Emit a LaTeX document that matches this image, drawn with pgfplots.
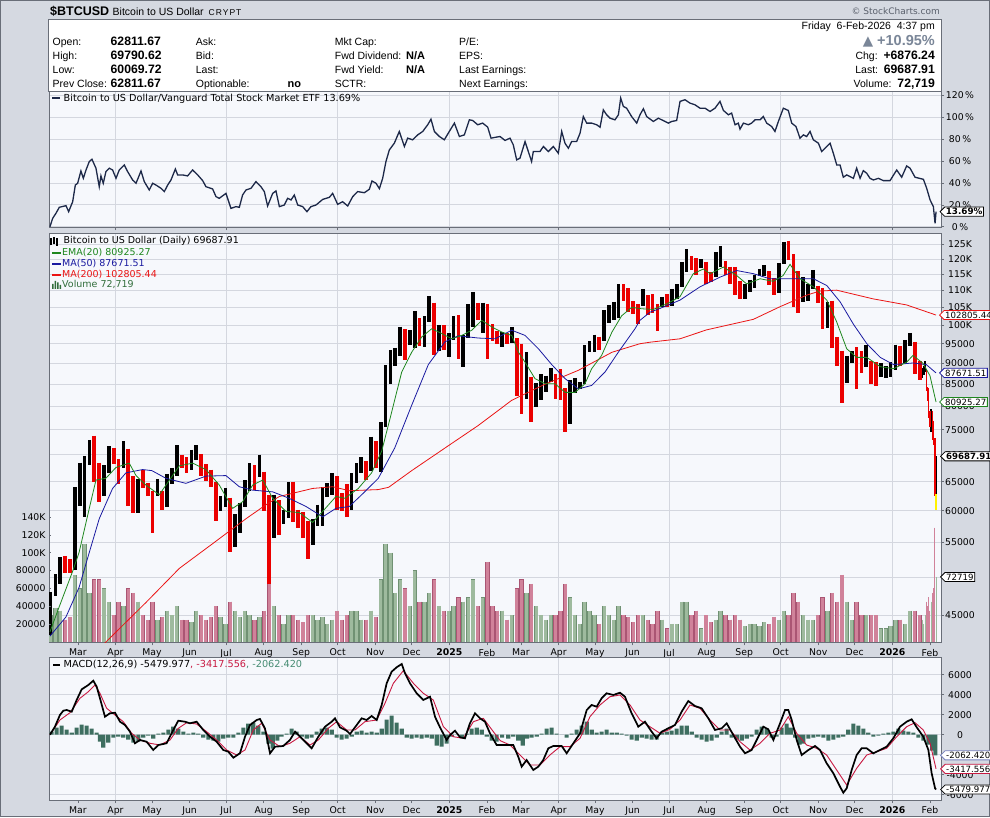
\documentclass[border=0pt]{standalone}
\usepackage{fontspec}
\setmainfont{Liberation Sans}
\newfontfamily\dv{DejaVu Sans}
\newfontfamily\spaced[LetterSpace=12]{Liberation Sans}
\usepackage{pgfplots}
\pgfplotsset{compat=1.18}
\usepackage{pgfplotstable}
\usetikzlibrary{shapes.symbols}
\newcommand{\fs}[1]{\fontsize{#1}{#1}\selectfont}

\definecolor{outerbg}{RGB}{213,217,225}
\definecolor{panelbg}{RGB}{246,248,252}
\definecolor{gridc}{RGB}{212,215,223}
\definecolor{framec}{RGB}{105,110,120}
\definecolor{rsline}{RGB}{28,40,72}
\definecolor{emag}{RGB}{30,135,30}
\definecolor{ma50c}{RGB}{25,25,160}
\definecolor{ma200c}{RGB}{235,20,20}
\definecolor{candred}{RGB}{235,0,0}
\definecolor{volg}{RGB}{158,186,158}
\definecolor{volp}{RGB}{208,130,154}
\definecolor{volgd}{RGB}{112,145,115}
\definecolor{volpd}{RGB}{170,85,115}
\definecolor{macdred}{RGB}{200,25,65}
\definecolor{histg}{RGB}{62,110,96}
\definecolor{chgc}{RGB}{122,134,152}
\definecolor{macdblue}{RGB}{120,130,190}
\definecolor{stamp}{RGB}{90,96,108}
\definecolor{legg}{RGB}{50,110,60}
\definecolor{histtxt}{RGB}{70,140,115}

% 4-day groups: centre day (days since 1 Jan 2024), low, high, up(1)/down(0), volume
\pgfplotstableread{
d lo hi up vol
37.5 42600 48000 1 30000
41.5 47500 50400 1 38000
45.5 49000 52800 1 35000
49.5 50600 53000 0 25000
53.5 50500 52500 0 28000
57.5 51000 64000 1 75000
61.5 60800 68500 1 60000
65.5 59000 69800 1 110000
69.5 68000 72900 1 55000
73.5 65000 73800 0 70000
77.5 61500 68500 0 70000
81.5 62500 68000 1 60000
85.5 66500 71700 1 45000
89.5 68200 71300 0 30000
93.5 64500 69200 0 45000
97.5 67500 72700 1 40000
101.5 60800 71200 0 60000
105.5 59700 66000 0 55000
109.5 59600 65500 1 45000
113.5 63800 67200 0 30000
117.5 62500 64800 0 25000
121.5 56500 63300 0 45000
125.5 62500 65500 1 25000
129.5 60200 63300 0 28000
133.5 60700 66400 1 35000
137.5 64600 67500 1 30000
141.5 66000 71900 1 40000
145.5 67500 70000 0 25000
149.5 66600 69500 0 25000
153.5 67200 71000 1 22000
157.5 69000 71900 1 35000
161.5 66100 70100 0 30000
165.5 65100 68200 0 25000
169.5 64100 67200 0 28000
173.5 58400 65000 0 40000
177.5 60000 62400 1 28000
181.5 60600 63800 1 20000
185.5 53500 62200 0 45000
189.5 54300 59500 1 35000
193.5 56500 61300 1 28000
197.5 60600 65300 1 35000
201.5 63300 68400 1 30000
205.5 63500 68000 0 25000
209.5 65800 70000 1 28000
213.5 59900 66800 0 35000
217.5 49000 62700 0 65000
221.5 55700 62700 1 40000
225.5 56100 61800 0 30000
229.5 57800 60200 1 20000
233.5 58800 64900 1 30000
237.5 58100 65000 0 30000
241.5 57200 60200 0 25000
245.5 55600 59800 0 22000
249.5 52600 58300 0 30000
253.5 54600 58700 1 30000
257.5 57500 61000 1 25000
261.5 57600 64000 1 28000
265.5 62300 64800 1 20000
269.5 62700 66500 1 25000
273.5 60100 66000 0 35000
277.5 59900 63000 0 25000
281.5 58900 64500 0 30000
285.5 60200 66500 1 35000
289.5 64800 68400 1 35000
293.5 66600 69500 1 25000
297.5 65300 68800 0 25000
301.5 67000 73600 1 35000
305.5 67500 72700 0 28000
309.5 66800 76500 1 70000
313.5 75600 89600 1 110000
317.5 85100 93400 1 100000
321.5 89400 94000 1 55000
325.5 91800 99600 1 70000
329.5 90800 98800 0 60000
333.5 94600 98600 1 40000
337.5 94000 104000 1 80000
341.5 94300 101900 0 45000
345.5 94200 102500 1 45000
349.5 100800 108300 1 55000
353.5 92200 106400 0 70000
357.5 93000 99900 1 40000
361.5 93300 99900 0 35000
365.5 91500 97800 1 35000
369.5 96000 102500 1 40000
373.5 91200 102700 0 50000
377.5 89200 97300 1 45000
381.5 96500 105900 1 50000
385.5 99500 109600 1 70000
389.5 101300 106300 0 40000
393.5 97800 106400 1 50000
397.5 91200 106000 0 90000
401.5 95700 100200 0 40000
405.5 94900 98500 0 35000
409.5 94100 98100 1 35000
413.5 95000 97800 0 25000
417.5 95200 99500 1 30000
421.5 82200 96500 0 60000
425.5 78200 95000 0 70000
429.5 81500 92800 1 55000
433.5 76600 86800 0 65000
437.5 79900 85300 1 40000
441.5 81300 87400 1 30000
445.5 83200 87000 1 25000
449.5 85500 88800 1 30000
453.5 81600 87500 0 30000
457.5 81300 88500 0 35000
461.5 74500 84000 0 65000
465.5 76200 86000 1 50000
469.5 83000 86500 1 30000
473.5 83800 85600 1 20000
477.5 85000 94600 1 45000
481.5 92900 95700 1 35000
485.5 92800 97400 1 30000
489.5 93400 96900 0 20000
493.5 95800 104300 1 40000
497.5 100700 105700 1 30000
501.5 101500 106700 1 25000
505.5 102000 111900 1 40000
509.5 106800 111900 0 30000
513.5 103700 110700 0 28000
517.5 103100 106800 0 22000
521.5 100400 106000 0 30000
525.5 105300 110400 1 30000
529.5 102700 108500 0 25000
533.5 103400 108900 0 20000
537.5 98300 106000 0 35000
541.5 105100 108100 1 25000
545.5 105200 108800 0 15000
549.5 105300 110500 1 20000
553.5 107500 111900 1 20000
557.5 111000 119000 1 45000
561.5 115700 123200 1 45000
565.5 116500 120900 0 30000
569.5 114700 120200 0 35000
573.5 117000 119800 1 15000
577.5 112000 119000 0 30000
581.5 112600 115700 0 22000
585.5 114300 122300 1 25000
589.5 117200 124400 1 35000
593.5 114700 119200 0 30000
597.5 112000 117400 0 25000
601.5 108600 117400 0 30000
605.5 107400 113000 0 25000
609.5 107300 112000 1 18000
613.5 109600 113300 1 20000
617.5 110600 114700 1 20000
621.5 114500 116800 1 18000
625.5 114600 117900 1 22000
629.5 111600 116000 0 20000
633.5 108700 113900 0 28000
637.5 109300 118700 1 25000
641.5 118300 125700 1 35000
645.5 119500 126200 0 30000
649.5 105000 121600 0 55000
653.5 103500 115900 0 45000
657.5 106600 114000 1 30000
661.5 107000 112000 1 25000
665.5 110500 116400 1 25000
669.5 106300 111500 0 30000
673.5 98900 110800 0 50000
677.5 99300 106500 1 35000
681.5 94000 107000 0 55000
685.5 89300 96800 0 45000
689.5 80600 93200 0 75000
693.5 85300 91900 1 45000
697.5 90000 93100 1 25000
701.5 83800 94100 0 45000
705.5 87700 93000 0 30000
709.5 89200 94600 1 30000
713.5 85100 90600 0 30000
717.5 84500 90400 0 30000
721.5 86600 90000 1 15000
725.5 86500 89400 1 15000
729.5 86800 90400 1 18000
733.5 88300 94800 1 25000
737.5 89300 94400 0 25000
741.5 90100 96000 1 20000
745.5 94500 97900 1 35000
749.5 87300 95500 0 35000
753.5 86000 90500 0 30000
}\cand

% daily bars at the end
\pgfplotstableread{
d lo hi up vol
756 86500 88900 1 25000
757 87200 89400 1 20000
758 88000 90500 1 30000
759 83400 88500 0 45000
760 81100 84300 0 40000
761 77500 84200 0 50000
762 75500 79000 0 35000
763 74500 79300 1 45000
764 73000 79000 0 55000
765 72000 76900 0 60000
766 62500 73300 0 128000
767 62811.67 69687.91 1 72719
}\candd

\pgfplotstableread{
d lo hi
767 60069.72 62811.67
}\wick

\pgfplotstableread{
d v
37 43000
44.7 46100
55.7 50800
61 53500
69.4 60400
74.9 65300
83 65600
91.4 67600
102.3 68400
107.9 66100
116 64400
127 62700
132.6 64400
143.6 67900
154.6 68400
165.5 67200
176.5 64400
187.5 60400
195.7 61500
204 64400
212.3 65300
220.5 62100
231.4 59900
242.4 59700
253.4 58100
261.7 59900
272.6 62400
280 62100
291 63800
302 66600
310.3 70700
318.5 78700
326.8 87900
335 92800
343.3 96800
351.5 99000
359.8 97700
368 96300
376.2 97200
384.5 98600
392.7 101300
401 99500
409.2 98100
417.4 97200
423 92800
428.4 90300
436.6 86300
444.9 85100
453 85100
461.4 83100
469.6 83100
477.8 85100
483.3 88700
491.5 92000
500 98100
508 102600
516.3 105000
524.5 104600
534 104400
545 106000
556 108100
567 115200
575.3 116700
580.8 115200
591.8 117300
602.8 114600
611 112000
622 113600
633 112800
641 114600
646.7 118200
655 113600
666 111100
677 107100
685 101000
693.4 93700
701.6 91500
710 91500
721 89200
732 88700
742.8 90300
748 92000
756.3 90000
762 87000
767 80925.27
}\ema

\pgfplotstableread{
d v
37 42500
50.2 44800
61 48600
69.4 53500
77.6 58700
88.6 63800
99.6 66600
113.4 67200
121 67000
132.6 65600
149 64700
165.5 66000
182 66100
193 64100
204 63500
220.5 63200
234 62100
248 60700
261.7 59000
272.6 60400
283.6 60700
293.8 62700
307.5 65600
321 71300
335 80200
348.7 89700
362.4 95500
373.4 97100
390 96500
403.7 96300
417.4 98600
428.4 97200
439.4 93700
450.4 89700
461.4 86300
472.3 83900
483.3 84700
494.3 87900
505.2 92800
519 99000
523 101300
531.3 103600
539.6 104700
556 107100
572.5 111100
589 114100
602.8 116200
616.5 115200
630 113600
644 113600
666 113600
677 111500
688 106600
699 100200
710 95000
721 91500
732 89700
748 90100
759 89700
767 87671.51
}\mafifty

\pgfplotstableread{
d v
37 35500
60 38800
83 41800
116 46600
143.6 51200
171 54800
198.5 58700
215 61000
226 62400
253.4 63800
270 64100
283.6 63400
307.5 63600
316 64000
335 67000
362.4 71300
390 75900
417.4 81300
444.9 85000
472.3 88300
500 92800
523 95000
531.3 95400
556 96300
578 98700
616.5 101600
638.5 105200
660.5 108600
671 109800
685 110100
715 107500
742.8 105700
767 102805.44
}\matwohundred

\pgfplotstableread{
d p
37.0 0
39.2 7.6
41.9 12.2
44.7 17.7
50.2 19.2
52.4 13.7
55.7 22.8
57.9 38.0
59.8 39.6
62.5 50.8
64.5 44.1
66.7 51.7
69.4 59.4
71.6 61.5
74.9 53.3
77.6 36.5
79.0 46.3
80.9 39.6
83.1 50.2
85.9 53.3
88.6 51.7
91.4 44.1
94.1 51.7
98.2 56.3
101.0 50.2
105.1 42.6
107.9 39.6
112.0 50.8
114.7 41.1
118.8 33.5
121.6 39.6
124.3 38.0
128.5 35.0
131.2 32.0
134.0 38.0
136.7 42.6
140.3 52.6
142.2 47.2
146.3 47.2
150.4 46.3
154.5 51.7
158.7 47.2
162.8 42.0
165.5 36.5
171.0 34.4
173.8 27.4
176.5 25.9
182.0 30.4
186.1 16.7
190.2 18.3
193.0 17.7
195.7 28.9
198.5 33.5
202.6 35.0
206.7 41.1
210.8 36.5
213.6 32.0
216.3 18.9
220.5 30.4
223.2 32.6
226.0 18.3
230.1 19.8
232.8 25.9
235.6 24.4
238.3 28.9
241.1 19.8
245.2 18.3
248.7 13.7
252.0 18.3
256.2 19.8
261.7 24.9
267.2 26.8
269.9 30.4
274.0 20.4
278.1 22.8
282.3 18.9
286.4 27.4
290.5 32.0
296.0 31.0
300.1 34.1
302.3 41.7
305.6 39.6
308.4 34.7
311.1 44.1
313.8 59.4
316.6 70.0
320.7 76.1
324.8 86.8
329.0 73.1
331.7 80.7
335.8 79.2
340.0 83.7
344.1 86.8
348.2 92.9
350.9 98.0
353.7 86.8
357.8 82.2
361.9 79.2
366.0 86.8
370.2 94.4
374.3 82.2
378.4 83.7
382.5 97.4
385.3 96.8
389.4 92.9
393.5 94.4
397.6 90.8
400.4 80.7
404.5 81.6
407.8 82.2
411.9 78.6
416.0 80.7
418.7 74.6
421.5 60.9
424.2 62.4
428.4 77.6
431.1 68.5
433.8 59.4
435.2 68.5
440.7 68.5
443.5 73.1
447.6 68.5
451.7 73.1
455.8 67.0
458.6 86.8
461.3 76.1
464.1 71.5
466.8 77.6
470.9 77.6
473.7 85.2
476.4 100.4
479.2 94.4
483.3 94.4
487.4 92.9
490.2 90.7
492.9 106.5
495.6 102.0
498.4 98.9
502.5 97.4
505.3 102.0
507.2 117.2
509.4 109.6
512.1 108.0
516.2 100.4
520.4 94.4
523.1 102.0
525.9 107.5
528.6 100.4
534.1 95.9
538.2 98.9
541.0 97.4
546.5 94.4
549.2 95.9
553.3 96.8
556.1 114.2
560.2 115.7
564.3 112.6
568.4 111.1
572.6 108.0
576.7 108.0
580.8 105.0
584.9 108.0
589.0 114.2
591.8 106.0
595.9 102.0
598.6 103.5
601.4 92.9
604.1 94.4
605.5 88.9
608.3 94.4
612.4 92.9
615.1 94.4
617.9 97.4
622.0 97.4
624.7 100.4
627.5 94.4
631.6 91.3
634.3 86.8
637.1 95.9
641.2 108.0
645.3 105.9
648.1 94.4
651.6 91.3
654.9 80.7
657.7 83.7
660.4 82.2
663.2 86.8
665.9 79.2
670.1 76.1
672.8 68.5
676.9 73.1
679.7 76.1
682.4 66.9
685.2 56.3
687.9 56.3
690.6 45.1
693.4 47.2
696.1 45.7
698.9 44.1
701.6 53.3
704.4 44.1
707.1 51.1
709.9 48.7
712.6 44.1
715.4 42.6
719.5 44.1
723.6 42.0
729.1 42.0
734.6 51.7
738.7 45.1
742.8 55.4
745.6 53.3
749.7 45.1
756.6 43.2
759.3 35.0
762.1 24.4
764.8 18.3
766.2 3.0
767.0 13.69
}\rs

\pgfplotstableread{
d m
37.0 0
41.1 800
45.2 1970
48.0 2400
50.7 2470
54.9 2300
59.0 3470
63.1 4530
68.6 4970
72.7 5400
75.5 4800
78.2 3640
82.3 1800
86.4 2140
90.6 2200
94.7 1300
98.8 970
102.9 300
107.0 -860
111.2 -530
116.6 -700
122.1 -1530
126.3 -1030
133.1 -860
138.6 470
142.7 1400
148.2 1300
152.3 1140
157.8 1300
163.3 470
168.8 -200
174.3 -700
179.8 -1530
183.9 -1700
188.1 -2300
193.5 -1860
197.7 -200
201.8 970
207.3 1470
210.0 1570
214.1 640
218.3 -1860
222.4 -1200
229.2 -1130
234.7 -530
238.9 300
243.0 -200
248.5 -860
252.6 -1360
258.1 -200
263.6 800
269.1 1300
271.8 1640
275.9 740
281.4 400
284.2 70
289.7 970
293.8 1640
297.9 1470
302.0 1870
306.2 1470
310.3 2970
314.4 5140
318.5 6300
322.6 6740
326.8 7070
329.5 6140
333.6 5140
339.1 4140
344.6 3470
350.1 3800
354.2 1800
358.3 740
363.8 -530
366.6 -30
370.7 400
374.8 -260
378.9 -360
383.0 1140
387.2 2140
391.3 1640
395.4 1300
399.5 140
405.0 -1030
410.5 -1030
418.7 -1030
422.8 -2200
425.6 -3200
429.7 -2530
435.2 -3530
439.3 -3200
443.4 -2530
447.6 -1360
451.7 -1130
458.6 -1130
462.7 -1860
468.2 -860
473.7 140
479.2 2470
483.3 2970
487.4 2800
491.5 3640
495.6 4140
501.1 3970
506.6 4200
510.7 3800
516.2 2140
521.7 800
527.2 1300
532.7 300
536.8 -360
540.9 300
546.4 640
551.9 970
557.4 2300
562.9 3370
568.4 2870
573.9 2640
579.4 1640
584.9 470
590.4 640
594.5 1140
600.0 -30
605.5 -1200
609.6 -1860
615.1 -1530
620.6 -200
624.7 800
628.8 540
633.0 -530
638.5 1140
642.6 2470
645.3 2470
648.1 1470
652.2 -530
656.3 -2030
661.8 -1530
667.3 -1130
671.4 -1530
676.9 -2860
682.4 -3860
687.9 -5200
690.6 -5800
693.4 -5360
697.5 -3530
701.6 -2030
705.7 -1360
709.9 -1360
715.3 -1860
720.8 -1530
726.3 -1200
731.8 -360
737.3 800
742.8 1300
746.9 1540
751.1 740
756.5 -200
760.7 -1530
763.4 -3860
766.2 -5360
767.0 -5479.977
}\macd

\pgfplotstableread{
d s
37.0 0
45.2 1470
53.5 2200
61.7 3640
68.6 4300
74.1 4970
78.2 4140
83.7 2640
90.6 1970
97.4 1300
104.3 140
111.2 -530
119.4 -860
127.6 -1030
135.9 -530
142.7 640
149.6 1200
157.8 1070
166.1 300
174.3 -530
182.6 -1530
190.8 -2030
197.7 -1530
204.5 470
211.4 1140
218.3 -530
226.5 -1200
234.7 -860
243.0 -200
251.2 -1030
258.1 -530
266.3 640
273.2 1300
281.4 470
288.3 470
296.5 1300
306.2 1470
313.0 3140
319.9 5140
328.1 6400
336.4 5140
344.6 4140
352.8 3470
361.1 800
369.3 -200
377.6 -360
385.8 1300
394.0 1640
402.3 300
408.0 -600
416.0 -1030
424.2 -2030
432.5 -3030
440.7 -3030
448.9 -2030
457.2 -1200
465.4 -1200
473.7 -360
481.9 1800
490.1 2970
498.4 3800
506.6 3970
514.9 2970
523.1 1470
531.3 800
539.6 140
547.8 540
556.1 1470
564.3 2970
572.5 2640
580.8 1470
589.0 470
597.3 470
605.5 -700
613.7 -1530
622.0 -860
630.2 140
638.5 470
645.3 1800
652.2 140
660.4 -1030
668.7 -1360
676.9 -2030
685.1 -3530
693.4 -5030
701.6 -3360
709.9 -2030
718.1 -1700
726.3 -1360
734.6 -200
742.8 800
749.7 1200
756.5 470
762.1 -860
767.0 -3417.556
}\sig

\pgfplotstableread{
d h
38.4 300
42.5 700
46.6 900
50.7 500
54.9 200
59.0 700
63.1 1000
67.2 900
71.3 600
75.4 200
78.2 -700
80.9 -1300
85.0 -800
89.2 -300
93.3 -200
97.4 -300
101.5 -500
105.7 -800
109.8 -700
113.9 -300
118.0 -100
122.1 -400
126.3 100
130.4 200
134.5 500
138.6 800
142.7 600
146.9 300
151.0 100
155.1 200
159.2 100
163.3 -300
167.5 -500
171.6 -600
175.7 -700
179.8 -400
183.9 -300
188.1 -300
192.2 200
196.3 700
200.4 1100
204.5 1200
208.6 900
212.8 300
216.9 -900
220.5 -1400
224.3 -600
227.9 -200
232.0 100
236.1 600
240.2 300
244.4 -200
248.5 -400
252.6 -300
256.7 300
260.8 600
265.0 700
269.1 500
273.2 -300
277.3 -500
281.4 -400
285.6 -200
289.7 300
293.8 400
297.9 200
302.0 300
306.2 200
310.3 600
314.4 1500
318.5 1900
322.6 1200
326.8 600
330.9 -300
335.0 -400
339.1 -300
343.2 -400
347.4 -300
351.5 -400
355.6 -1100
359.7 -1200
363.8 -900
368.0 -200
372.1 0
376.2 -300
380.3 100
384.4 600
388.6 700
392.7 500
396.8 -200
400.9 -600
405.0 -700
409.5 -300
414.6 -400
418.7 -200
422.8 -600
426.5 -1100
430.0 -400
433.8 -300
438.0 -200
442.1 100
446.2 600
450.3 700
454.4 100
458.6 0
462.7 -300
466.8 100
470.9 500
475.0 900
479.2 1300
483.3 500
487.4 200
491.5 300
495.6 500
499.8 200
503.9 200
508.0 100
512.1 -100
516.2 -500
520.4 -600
524.5 -300
528.6 -400
532.7 -500
536.8 -500
541.0 200
545.1 300
549.2 400
553.3 600
557.4 900
561.6 900
565.7 300
569.8 -300
573.9 -500
578.0 -700
582.1 -600
586.3 -300
590.4 300
594.5 600
598.6 -300
602.8 -500
606.9 -600
611.0 -400
615.1 -200
619.2 500
623.3 800
627.5 600
631.6 -300
635.7 -200
639.8 700
643.9 1100
647.5 700
651.0 -300
654.5 -1000
657.7 -900
661.8 -400
665.9 -300
670.0 -200
674.2 -300
678.3 -600
682.4 -500
686.5 -300
690.6 -200
694.7 500
698.9 1100
703.0 900
707.1 600
711.2 200
715.4 -200
719.5 -100
723.6 100
727.7 200
731.8 300
736.0 600
740.1 400
744.2 300
748.3 200
752.4 -300
756.6 -600
760.7 -1000
763.8 -1600
766.5 -2062.42
}\hist

\pgfplotsset{
  panel/.style={
    scale only axis, width=892pt, xmin=36.2, xmax=771.1,
    anchor=south west,
    axis line style={framec, line width=0.6pt},
    tick style={framec, line width=0.5pt},
    tick align=outside, major tick length=3pt,
    xtick pos=left, ytick pos=right, yticklabel pos=right,
    ymajorgrids, grid style={gridc, line width=0.6pt},
    scaled y ticks=false, scaled x ticks=false,
    tick label style={font=\dv\fs{9.3}},
    yticklabel style={anchor=center, xshift=16pt},
    axis background/.style={fill=panelbg},
    clip mode=individual,
  },
  qgrid/.style={minor xtick={91,182,274,366,456,547,639,731}, xminorgrids,
    minor tick length=0pt, minor grid style={gridc, line width=0.6pt}},
  monthticks/.style={
    xtick={60,91,121,152,182,213,244,274,305,335,366,397,425,456,486,517,547,578,609,639,670,700,731,762},
    xticklabels={Mar,Apr,May,Jun,Jul,Aug,Sep,Oct,Nov,Dec,\textbf{2025},Feb,Mar,Apr,May,Jun,Jul,Aug,Sep,Oct,Nov,Dec,\textbf{2026},Feb}},
  bars/.style n args={2}{draw=none, mark=none,
    error bars/y dir=minus, error bars/y explicit, error bars/error mark=none,
    error bars/error bar style={draw=#1, line width=#2}},
}
\tikzset{tag/.style={signal, signal to=west, draw=#1, fill=white, line width=0.8pt,
   inner xsep=1.1pt, inner ysep=1.3pt, font=\dv\fs{8.6}, anchor=west, text=black}}

\begin{document}
\begin{tikzpicture}[x=1pt,y=1pt]
\fill[outerbg] (0,0) rectangle (990,817);
\draw[framec, line width=0.8pt] (0.4,0.4) rectangle (989.6,816.6);
% header box
\fill[white] (48,726) rectangle (941,798);
\draw[framec, line width=0.6pt] (48,726) rectangle (941,798);

% ---------- top panel: relative strength ----------
\begin{axis}[panel, at={(49pt,589.5pt)}, height=136.2pt, ymin=-0.7, ymax=123.4,
  ytick={0,20,40,60,80,100,120},
  yticklabels={0\,\%,20\,\%,40\,\%,60\,\%,80\,\%,100\,\%,120\,\%},
  xtick={91,182,274,366,456,547,639,731}, xticklabels={}, xmajorgrids]
\addplot[rsline, line width=1.3pt] table[x=d,y=p] {\rs};
\coordinate (tagrs) at (axis cs:771.1,13.69);
\end{axis}

% ---------- price panel (y = natural log of the price) with volume overlay ----------
\begin{axis}[panel, qgrid, monthticks, at={(49pt,174.5pt)}, height=409.5pt,
  ymin=10.639481, ymax=11.766343,
  ytick={10.714418,10.819778,10.915088,11.002100,11.082142,11.156251,11.225243,11.289782,11.350406,11.407565,11.461632,11.512925,11.561716,11.608236,11.652687,11.695247,11.736069},
  yticklabels={45000,50000,55000,60000,65000,70000,75000,80000,85000,90000,95000,100K,105K,110K,115K,120K,125K}]
% volume (left scale: 0 at 10.641407, 407622 volume units per log unit)
\addplot[restrict expr to domain={\thisrow{up}}{0.5:1.5}, bars={volgd}{4.3pt}]
  table[x=d, y expr=10.641407+\thisrow{vol}/407622, y error minus expr=\thisrow{vol}/407622] {\cand};
\addplot[restrict expr to domain={\thisrow{up}}{-0.5:0.5}, bars={volpd}{4.3pt}]
  table[x=d, y expr=10.641407+\thisrow{vol}/407622, y error minus expr=\thisrow{vol}/407622] {\cand};
\addplot[restrict expr to domain={\thisrow{up}}{0.5:1.5}, bars={volg}{3.1pt}]
  table[x=d, y expr=10.641407+\thisrow{vol}/407622-0.0008, y error minus expr=\thisrow{vol}/407622-0.0008] {\cand};
\addplot[restrict expr to domain={\thisrow{up}}{-0.5:0.5}, bars={volp}{3.1pt}]
  table[x=d, y expr=10.641407+\thisrow{vol}/407622-0.0008, y error minus expr=\thisrow{vol}/407622-0.0008] {\cand};
\addplot[restrict expr to domain={\thisrow{up}}{0.5:1.5}, bars={volg}{1.0pt}]
  table[x=d, y expr=10.641407+\thisrow{vol}/407622, y error minus expr=\thisrow{vol}/407622] {\candd};
\addplot[restrict expr to domain={\thisrow{up}}{-0.5:0.5}, bars={volp}{1.0pt}]
  table[x=d, y expr=10.641407+\thisrow{vol}/407622, y error minus expr=\thisrow{vol}/407622] {\candd};
% candles (range bars)
\addplot[restrict expr to domain={\thisrow{up}}{0.5:1.5}, bars={black}{3.7pt}]
  table[x=d, y expr=ln(\thisrow{hi}), y error minus expr=ln(\thisrow{hi})-ln(\thisrow{lo})] {\cand};
\addplot[restrict expr to domain={\thisrow{up}}{-0.5:0.5}, bars={candred}{3.7pt}]
  table[x=d, y expr=ln(\thisrow{hi}), y error minus expr=ln(\thisrow{hi})-ln(\thisrow{lo})] {\cand};
\addplot[restrict expr to domain={\thisrow{up}}{0.5:1.5}, bars={black}{1.4pt}]
  table[x=d, y expr=ln(\thisrow{hi}), y error minus expr=ln(\thisrow{hi})-ln(\thisrow{lo})] {\candd};
\addplot[restrict expr to domain={\thisrow{up}}{-0.5:0.5}, bars={candred}{1.4pt}]
  table[x=d, y expr=ln(\thisrow{hi}), y error minus expr=ln(\thisrow{hi})-ln(\thisrow{lo})] {\candd};
\addplot[bars={yellow}{1.4pt}]
  table[x=d, y expr=ln(\thisrow{hi}), y error minus expr=ln(\thisrow{hi})-ln(\thisrow{lo})] {\wick};
% moving averages
\addplot[ma200c, line width=0.8pt] table[x=d, y expr=ln(\thisrow{v})] {\matwohundred};
\addplot[ma50c, line width=0.8pt] table[x=d, y expr=ln(\thisrow{v})] {\mafifty};
\addplot[emag, line width=0.8pt] table[x=d, y expr=ln(\thisrow{v})] {\ema};
\coordinate (tag200) at (axis cs:771.1,11.540593);
\coordinate (tag50) at (axis cs:771.1,11.381352);
\coordinate (tag20) at (axis cs:771.1,11.301282);
\coordinate (taglast) at (axis cs:771.1,11.151782);
\coordinate (tagvol) at (axis cs:771.1,10.819805);
\end{axis}

% ---------- volume scale labels (left) ----------
\begin{axis}[scale only axis, width=892pt, height=409.5pt, xmin=36.2, xmax=771.1,
  anchor=south west, at={(49pt,174.5pt)}, ymin=-785, ymax=458550,
  hide x axis, axis y line*=left, y axis line style={draw=none},
  scaled y ticks=false,
  ytick={20000,40000,60000,80000,100000,120000,140000},
  yticklabels={20000,40000,60000,80000,100K,120K,140K},
  tick style={framec, line width=0.5pt}, major tick length=2pt,
  yticklabel style={font=\dv\fs{9.3}}]
\addplot[draw=none] coordinates {(400,0)};
\end{axis}

% ---------- MACD panel ----------
\begin{axis}[panel, qgrid, monthticks, at={(49pt,17pt)}, height=142.7pt,
  ymin=-6530, ymax=7740,
  ytick={-6000,-4000,-2000,0,2000,4000,6000},
  yticklabels={-6000,-4000,-2000,0,2000,4000,6000}]
\addplot[ybar, bar width=3.4, fill=histg, draw=none] table[x=d,y=h] {\hist};
\addplot[macdred, line width=0.9pt] table[x=d,y=s] {\sig};
\addplot[black, line width=1.7pt] table[x=d,y=m] {\macd};
\coordinate (tagh) at (axis cs:771.1,-2062.42);
\coordinate (tags) at (axis cs:771.1,-3417.556);
\coordinate (tagm) at (axis cs:771.1,-5479.977);
\end{axis}

% ---------- value tags ----------
\node[tag=black, font=\dv\bfseries\fs{8.8}] at ([xshift=-1.5pt]tagrs) {13.69\%};
\node[tag=ma200c] at ([xshift=-2pt]tag200) {102805.44};
\node[tag=ma50c] at ([xshift=-2pt]tag50) {87671.51};
\node[tag=emag] at ([xshift=-2pt]tag20) {80925.27};
\node[tag=black, font=\dv\bfseries\fs{8.6}] at ([xshift=-1pt]taglast) {69687.91};
\node[tag=black] at ([xshift=-1pt]tagvol) {72719};
\node[tag=macdblue] at ([xshift=-1pt]tagh) {-2062.420};
\node[tag=macdred] at ([xshift=-1pt]tags) {-3417.556};
\node[tag=black] at ([xshift=-1pt]tagm) {-5479.977};

% ---------- legends ----------
\draw[rsline, line width=2pt] (52,718.5) -- (60,718.5);
\node[anchor=west, inner sep=0pt, font=\dv\fs{9.7}] at (63.5,718.5) {Bitcoin to US Dollar/Vanguard Total Stock Market ETF 13.69\%};

\draw[black, line width=1.1pt] (51,571.5) -- (51,579) (54,572.5) -- (54,580) (57,571) -- (57,578.5);
\node[anchor=west, inner sep=0pt, font=\dv\fs{9.5}] at (63.5,575.7) {Bitcoin to US Dollar (Daily) 69687.91};
\draw[emag, line width=2pt] (52,564.3) -- (61,564.3);
\node[anchor=west, inner sep=0pt, font=\dv\fs{9.5}, text=emag] at (62,564.3) {EMA(20) 80925.27};
\draw[ma50c, line width=2pt] (52,553.3) -- (61,553.3);
\node[anchor=west, inner sep=0pt, font=\dv\fs{9.5}, text=ma50c] at (62,553.3) {MA(50) 87671.51};
\draw[ma200c, line width=2pt] (52,542.3) -- (61,542.3);
\node[anchor=west, inner sep=0pt, font=\dv\fs{9.5}, text=ma200c] at (62,542.3) {MA(200) 102805.44};
\fill[legg] (52,528) rectangle (53.5,533) (54.5,528) rectangle (56,536) (57,528) rectangle (58.5,534.5) (59.5,528) rectangle (61,532);
\node[anchor=west, inner sep=0pt, font=\dv\fs{9.5}, text=legg] at (62,532.3) {Volume 72,719};

\draw[black, line width=2pt] (53,152.3) -- (60,152.3);
\node[anchor=west, inner sep=0pt, font=\dv\fs{9.7}] at (63.5,152.3) {MACD(12,26,9) -5479.977\textcolor{macdred}{, -3417.556}\textcolor{histtxt}{, -2062.420}};

% ---------- header text ----------
\node[anchor=base west, inner sep=0pt, font=\bfseries\fs{12.5}] at (50,801.5) {\$BTCUSD};
\node[anchor=base west, inner sep=0pt, font=\fs{10.5}] at (112.5,801.5) {Bitcoin to US Dollar};
\node[anchor=base west, inner sep=0pt, font=\spaced\fs{8.5}] at (208.5,801.5) {CRYPT};
\node[anchor=base east, inner sep=0pt, font=\dv\fs{9}, text=stamp] at (940,802) {\textcopyright\ StockCharts.com};

\begin{scope}[every node/.style={anchor=base west, inner sep=0pt, font=\fs{10.5}}]
\node at (52.5,771.7) {Open:};
\node at (52.5,757.7) {High:};
\node at (52.5,743.7) {Low:};
\node at (52.5,729.7) {Prev Close:};
\node[font=\bfseries\fs{12.2}] at (110.5,771.7) {62811.67};
\node[font=\bfseries\fs{12.2}] at (110.5,757.7) {69790.62};
\node[font=\bfseries\fs{12.2}] at (110.5,743.7) {60069.72};
\node[font=\bfseries\fs{12.2}] at (110.5,729.7) {62811.67};
\node at (195.7,771.7) {Ask:};
\node at (195.7,757.7) {Bid:};
\node at (195.7,743.7) {Last:};
\node at (195.7,729.7) {Optionable:};
\node[font=\bfseries\fs{11}] at (287.5,729.7) {no};
\node at (334.7,771.7) {Mkt Cap:};
\node at (334.7,757.7) {Fwd Dividend:};
\node at (334.7,743.7) {Fwd Yield:};
\node at (334.7,729.7) {SCTR:};
\node[font=\bfseries\fs{11}] at (406,757.7) {N/A};
\node[font=\bfseries\fs{11}] at (406,743.7) {N/A};
\node at (459,771.7) {P/E:};
\node at (459,757.7) {EPS:};
\node at (459,743.7) {Last Earnings:};
\node at (459,729.7) {Next Earnings:};
\end{scope}
\begin{scope}[every node/.style={anchor=base east, inner sep=0pt, font=\fs{10.5}}]
\node at (935,787.5) {Friday\ \ 6-Feb-2026\ \ 4:37 pm};
\node[font=\bfseries\fs{14.5}, text=chgc] at (935,771.5) {{\dv\fs{13.5}\symbol{"25B2}}\ +10.95\%};
\node at (935,757.7) {Chg:\ \ {\bfseries\fs{12.2}+6876.24}};
\node at (935,743.7) {Last:\ \ {\bfseries\fs{12.2}69687.91}};
\node at (935,729.7) {Volume:\ \ {\bfseries\fs{12.2}72,719}};
\end{scope}

\pgfresetboundingbox
\useasboundingbox (0,0) rectangle (990,817);
\end{tikzpicture}
\end{document}
